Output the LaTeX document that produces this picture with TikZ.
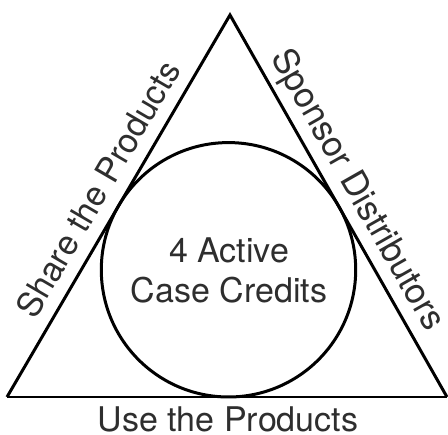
\documentclass[tikz,border=0pt]{standalone}
\usepackage{fontspec}
\setmainfont{TeX Gyre Heros}
\usetikzlibrary{calc}
\begin{document}
\begin{tikzpicture}[x=1pt,y=1pt,
  sideedge/.style={line width=3pt, line join=miter, line cap=butt},
  baseedge/.style={line width=1.6pt},
  ring/.style={draw, circle, line width=3pt, inner sep=0pt},
  lbl/.style={font=\fontsize{34}{40}\selectfont, inner sep=0pt, text=black!82}]
\useasboundingbox (0,0) rectangle (448,435);
\coordinate (A) at (230,420);
\coordinate (BL) at (7,38);
\coordinate (BR) at (447,38);
\draw[sideedge] (BL) -- (A) -- (BR);
\draw[baseedge] (BL) -- (BR);
\node[ring, minimum size=254.4pt] (c) at (228.5,165.2) {};
\node[lbl, anchor=base] (l1) at (229,172) {4 Active};
\node[lbl, anchor=base] (l2) at (229,132) {Case Credits};
\path ($(BL)!0.51!(A)$) ++(149.7:14) node[lbl, rotate=59.7, anchor=base] (share) {Share the Products};
\path ($(A)!0.49!(BR)$) ++(29.6:14) node[lbl, font=\fontsize{35}{40}\selectfont, rotate=-60.4, anchor=base] (sponsor) {Sponsor Distributors};
\node[lbl, anchor=base] (use) at (228,3) {Use the Products};
\end{tikzpicture}
\end{document}
